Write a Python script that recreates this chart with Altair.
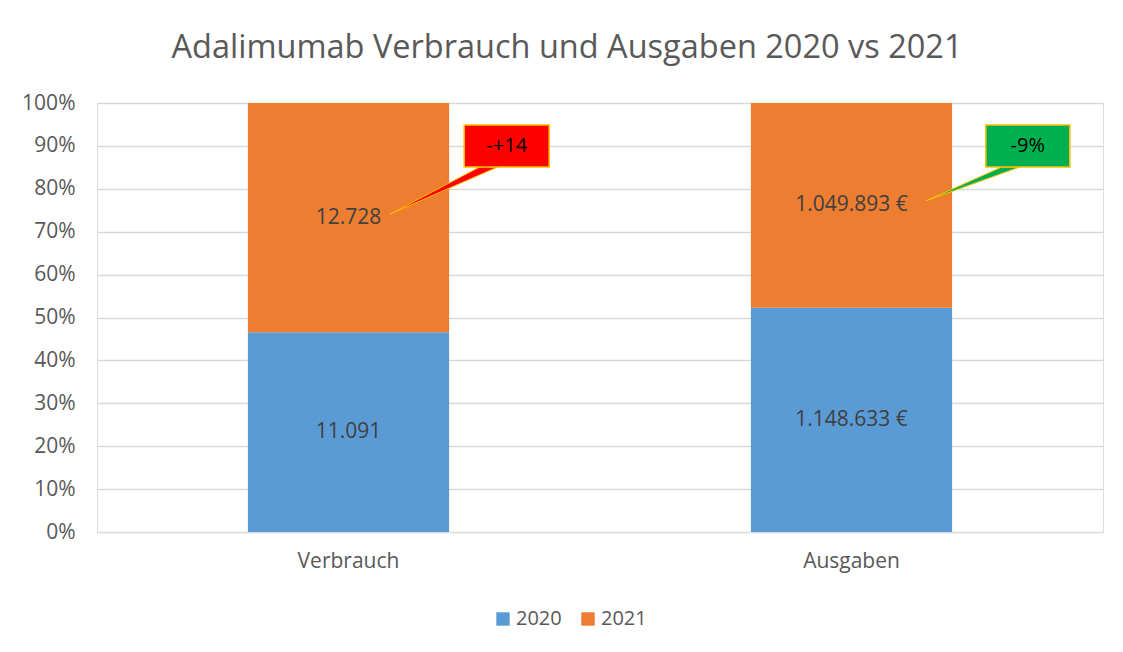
import altair as alt
import pandas as pd

# ---- data ----
categories = ["Verbrauch", "Ausgaben"]
years = ["2020", "2021"]
values_2020 = [11091, 1148633]
values_2021 = [12728, 1049893]
labels_2020 = ["11.091", "1.148.633 €"]
labels_2021 = ["12.728", "1.049.893 €"]

callout_texts = ["-+14", "-9%"]
callout_fills = ["#FF0000", "#00B050"]
# callout boxes in annotation units (x: 0..2 across the plot, y: share 0..1)
box_x0 = [0.730, 1.767]
box_x1 = [0.899, 1.934]
box_y0 = [0.851, 0.851]
box_y1 = [0.949, 0.949]
# pointer triangles: tip, base-left, base-right
tip_x = [0.5825, 1.648]
tip_y = [0.741, 0.772]
base_xl = [0.761, 1.799]
base_xr = [0.797, 1.835]

FONT = "Open Sans"
GRAY = "#595959"
BLUE = "#5B9BD5"
ORANGE = "#ED7D31"
GOLD = "#FFC000"

rows = []
for i, c in enumerate(categories):
    rows.append({"cat": c, "year": years[0], "value": values_2020[i], "label": labels_2020[i]})
    rows.append({"cat": c, "year": years[1], "value": values_2021[i], "label": labels_2021[i]})
df = pd.DataFrame(rows)

xband = alt.Scale(domain=categories, paddingInner=0.6, paddingOuter=0.3)
yscale = alt.Scale(domain=[0, 1], nice=False)

bars = alt.Chart(df).mark_bar().encode(
    x=alt.X("cat:N", sort=categories, scale=xband,
            axis=alt.Axis(title=None, labelAngle=0, ticks=False, domain=False,
                          labelFont=FONT, labelFontSize=21, labelColor=GRAY,
                          labelPadding=18)),
    y=alt.Y("value:Q", stack="normalize", scale=yscale,
            axis=alt.Axis(title=None, format=".0%",
                          values=[i / 10 for i in range(11)],
                          ticks=False, domain=False, grid=True,
                          gridColor="#D9D9D9", gridWidth=1.3,
                          labelFont=FONT, labelFontSize=21, labelColor=GRAY,
                          labelPadding=22)),
    color=alt.Color("year:N", scale=alt.Scale(domain=years, range=[BLUE, ORANGE]),
                    legend=alt.Legend(title=None, orient="none", direction="horizontal",
                                      legendX=396, legendY=506,
                                      symbolType="square", symbolSize=180,
                                      symbolStrokeWidth=0,
                                      labelFont=FONT, labelFontSize=20,
                                      labelColor=GRAY, labelOffset=3,
                                      columnPadding=16)),
    order=alt.Order("year:N"),
)

text = alt.Chart(df).transform_stack(
    stack="value", groupby=["cat"], as_=["y0", "y1"], offset="normalize",
    sort=[alt.SortField("year")]
).transform_calculate(
    mid="(datum.y0 + datum.y1) / 2"
).mark_text(font=FONT, fontSize=21, color="#404040").encode(
    x=alt.X("cat:N", sort=categories, scale=xband, axis=None),
    y=alt.Y("mid:Q", scale=yscale),
    text="label:N",
)

ax = alt.Scale(domain=[0, 2], nice=False, zero=False)

layers = [bars, text]
for i in range(2):
    tri = pd.DataFrame({
        "ax": [tip_x[i], base_xl[i], base_xr[i], tip_x[i]],
        "ay": [tip_y[i], box_y0[i], box_y0[i], tip_y[i]],
        "o": [0, 1, 2, 3],
    })
    layers.append(
        alt.Chart(tri).mark_line(fill=callout_fills[i], stroke=GOLD, strokeWidth=1).encode(
            x=alt.X("ax:Q", scale=ax, axis=None),
            y=alt.Y("ay:Q", scale=yscale),
            order="o:Q",
        )
    )
    box = pd.DataFrame({"x0": [box_x0[i]], "x1": [box_x1[i]], "y0": [box_y0[i]],
                        "y1": [box_y1[i]], "t": [callout_texts[i]],
                        "cx": [(box_x0[i] + box_x1[i]) / 2], "cy": [(box_y0[i] + box_y1[i]) / 2]})
    layers.append(
        alt.Chart(box).mark_rect(fill=callout_fills[i], stroke=GOLD, strokeWidth=1.5).encode(
            x=alt.X("x0:Q", scale=ax, axis=None), x2="x1:Q",
            y=alt.Y("y0:Q", scale=yscale), y2="y1:Q",
        )
    )
    layers.append(
        alt.Chart(box).mark_text(font=FONT, fontSize=20, color="#000000").encode(
            x=alt.X("cx:Q", scale=ax, axis=None),
            y=alt.Y("cy:Q", scale=yscale),
            text="t:N",
        )
    )

chart = alt.layer(*layers).resolve_scale(x="independent").properties(
    width=1006, height=429,
    title=alt.TitleParams("Adalimumab Verbrauch und Ausgaben 2020 vs 2021",
                          font=FONT, fontSize=32.5, fontWeight="normal", color=GRAY,
                          anchor="middle", dx=-33, offset=28),
    autosize=alt.AutoSizeParams(type="none"),
    padding={"left": 89, "top": 95, "right": 12, "bottom": 112},
).configure_view(stroke=None).configure(background="white")

chart.save("out.html", embed_options={"renderer": "svg", "actions": False})
